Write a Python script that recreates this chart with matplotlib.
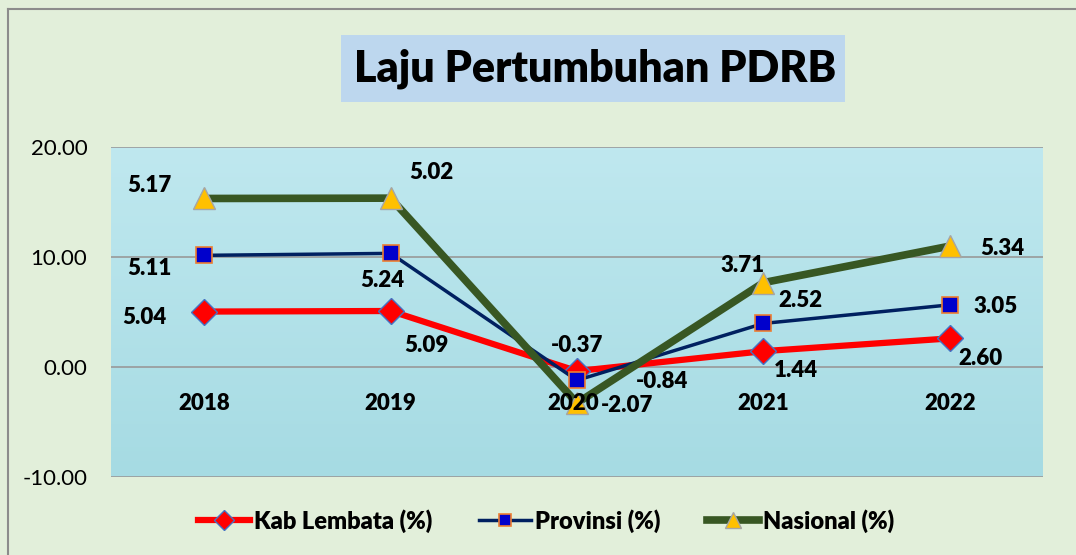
import numpy as np
import matplotlib
matplotlib.use("Agg")
import matplotlib.pyplot as plt
from matplotlib.patches import Rectangle
from matplotlib.lines import Line2D

plt.rcParams['font.family'] = ['Lato', 'DejaVu Sans']

# data
years = ['2018', '2019', '2020', '2021', '2022']
kab = [5.04, 5.09, -0.37, 1.44, 2.60]
prov = [5.11, 5.24, -0.84, 2.52, 3.05]
nas = [5.17, 5.02, -2.07, 3.71, 5.34]

# stacked line chart (like the Excel original)
kab_s = np.array(kab)
prov_s = kab_s + np.array(prov)
nas_s = prov_s + np.array(nas)

# label offsets in pixels (dx, dy)
kab_off = [(-60, -6), (36, -34), (0, 26), (32, -19), (31, -20)]
prov_off = [(-55, -13), (-8, -27), (85, -1), (37, 23), (46, -2)]
nas_off = [(-55, 13), (41, 26), (50, -2), (-21, 17), (52, -2)]

W = 'heavy'

fig = plt.figure(figsize=(10.76, 5.55), dpi=100)
fig.patch.set_facecolor('#E2EFDA')
fig.add_artist(Line2D([8/1076, 8/1076], [0, 1 - 9/555], color='#8C8C8C', lw=1.5))
fig.add_artist(Line2D([8/1076, 1], [1 - 9/555, 1 - 9/555], color='#8C8C8C', lw=1.5))

ax = fig.add_axes([111/1076, 1 - 477/555, 932/1076, 330/555])
# soft blue background
grad = np.linspace(0, 1, 100).reshape(-1, 1)
ax.imshow(grad, extent=(-0.5, 4.5, -10, 20), aspect='auto', origin='lower',
          cmap=matplotlib.colors.LinearSegmentedColormap.from_list('bg', ['#A6DBE3', '#BFE8EF']),
          zorder=0)

x = np.arange(len(years))
ax.set_xlim(-0.5, 4.5)
ax.set_ylim(-10, 20)
ax.set_yticks([-10, 0, 10, 20])
ax.set_yticklabels(['-10.00', '0.00', '10.00', '20.00'], fontsize=16)
ax.tick_params(axis='y', length=0, pad=17)
ax.set_xticks([])
for s in ax.spines.values():
    s.set_visible(False)
for yv in [-10, 0, 10, 20]:
    ax.axhline(yv, color='#999999', lw=1.2, zorder=1)

ax.plot(x, kab_s, color='#FF0000', lw=4.5, marker='D', ms=13, mfc='#FF0000',
        mec='#4472C4', mew=1, zorder=3, label='Kab Lembata (%)')
ax.plot(x, prov_s, color='#002060', lw=2.5, marker='s', ms=11, mfc='#0000CC',
        mec='#ED7D31', mew=1.2, zorder=4, label='Provinsi (%)')
ax.plot(x, nas_s, color='#385723', lw=5.5, marker='^', ms=16, mfc='#FFC000',
        mec='#A5A5A5', mew=1, zorder=5, label='Nasional (%)')

for vals, pos, offs in [(kab, kab_s, kab_off), (prov, prov_s, prov_off), (nas, nas_s, nas_off)]:
    for i in range(len(years)):
        ax.annotate(f'{vals[i]:.2f}', (x[i], pos[i]), xytext=offs[i], textcoords='offset pixels',
                    ha='center', va='center', fontsize=16, fontweight=W, zorder=6)

for i, yr in enumerate(years):
    ax.annotate(yr, (x[i], 0), xytext=(-4 if i == 2 else 0, -37), textcoords='offset pixels',
                ha='center', va='center', fontsize=16, fontweight=W, zorder=6)

# title box
fig.add_artist(Rectangle((341/1076, 1 - 102/555), 504/1076, 67/555,
                         transform=fig.transFigure, facecolor='#BDD7EE', edgecolor='none'))
fig.text(595/1076, 1 - 69/555, 'Laju Pertumbuhan PDRB', ha='center', va='center',
         fontsize=31, fontweight=W)

fig.legend(loc='center', bbox_to_anchor=(546/1076, 1 - 521/555), ncol=3, frameon=False,
           prop={'size': 17, 'weight': W}, handlelength=2.2, columnspacing=2.0,
           handletextpad=0.15, markerscale=0.75)

fig.savefig('out.png', dpi=100, facecolor=fig.get_facecolor())
